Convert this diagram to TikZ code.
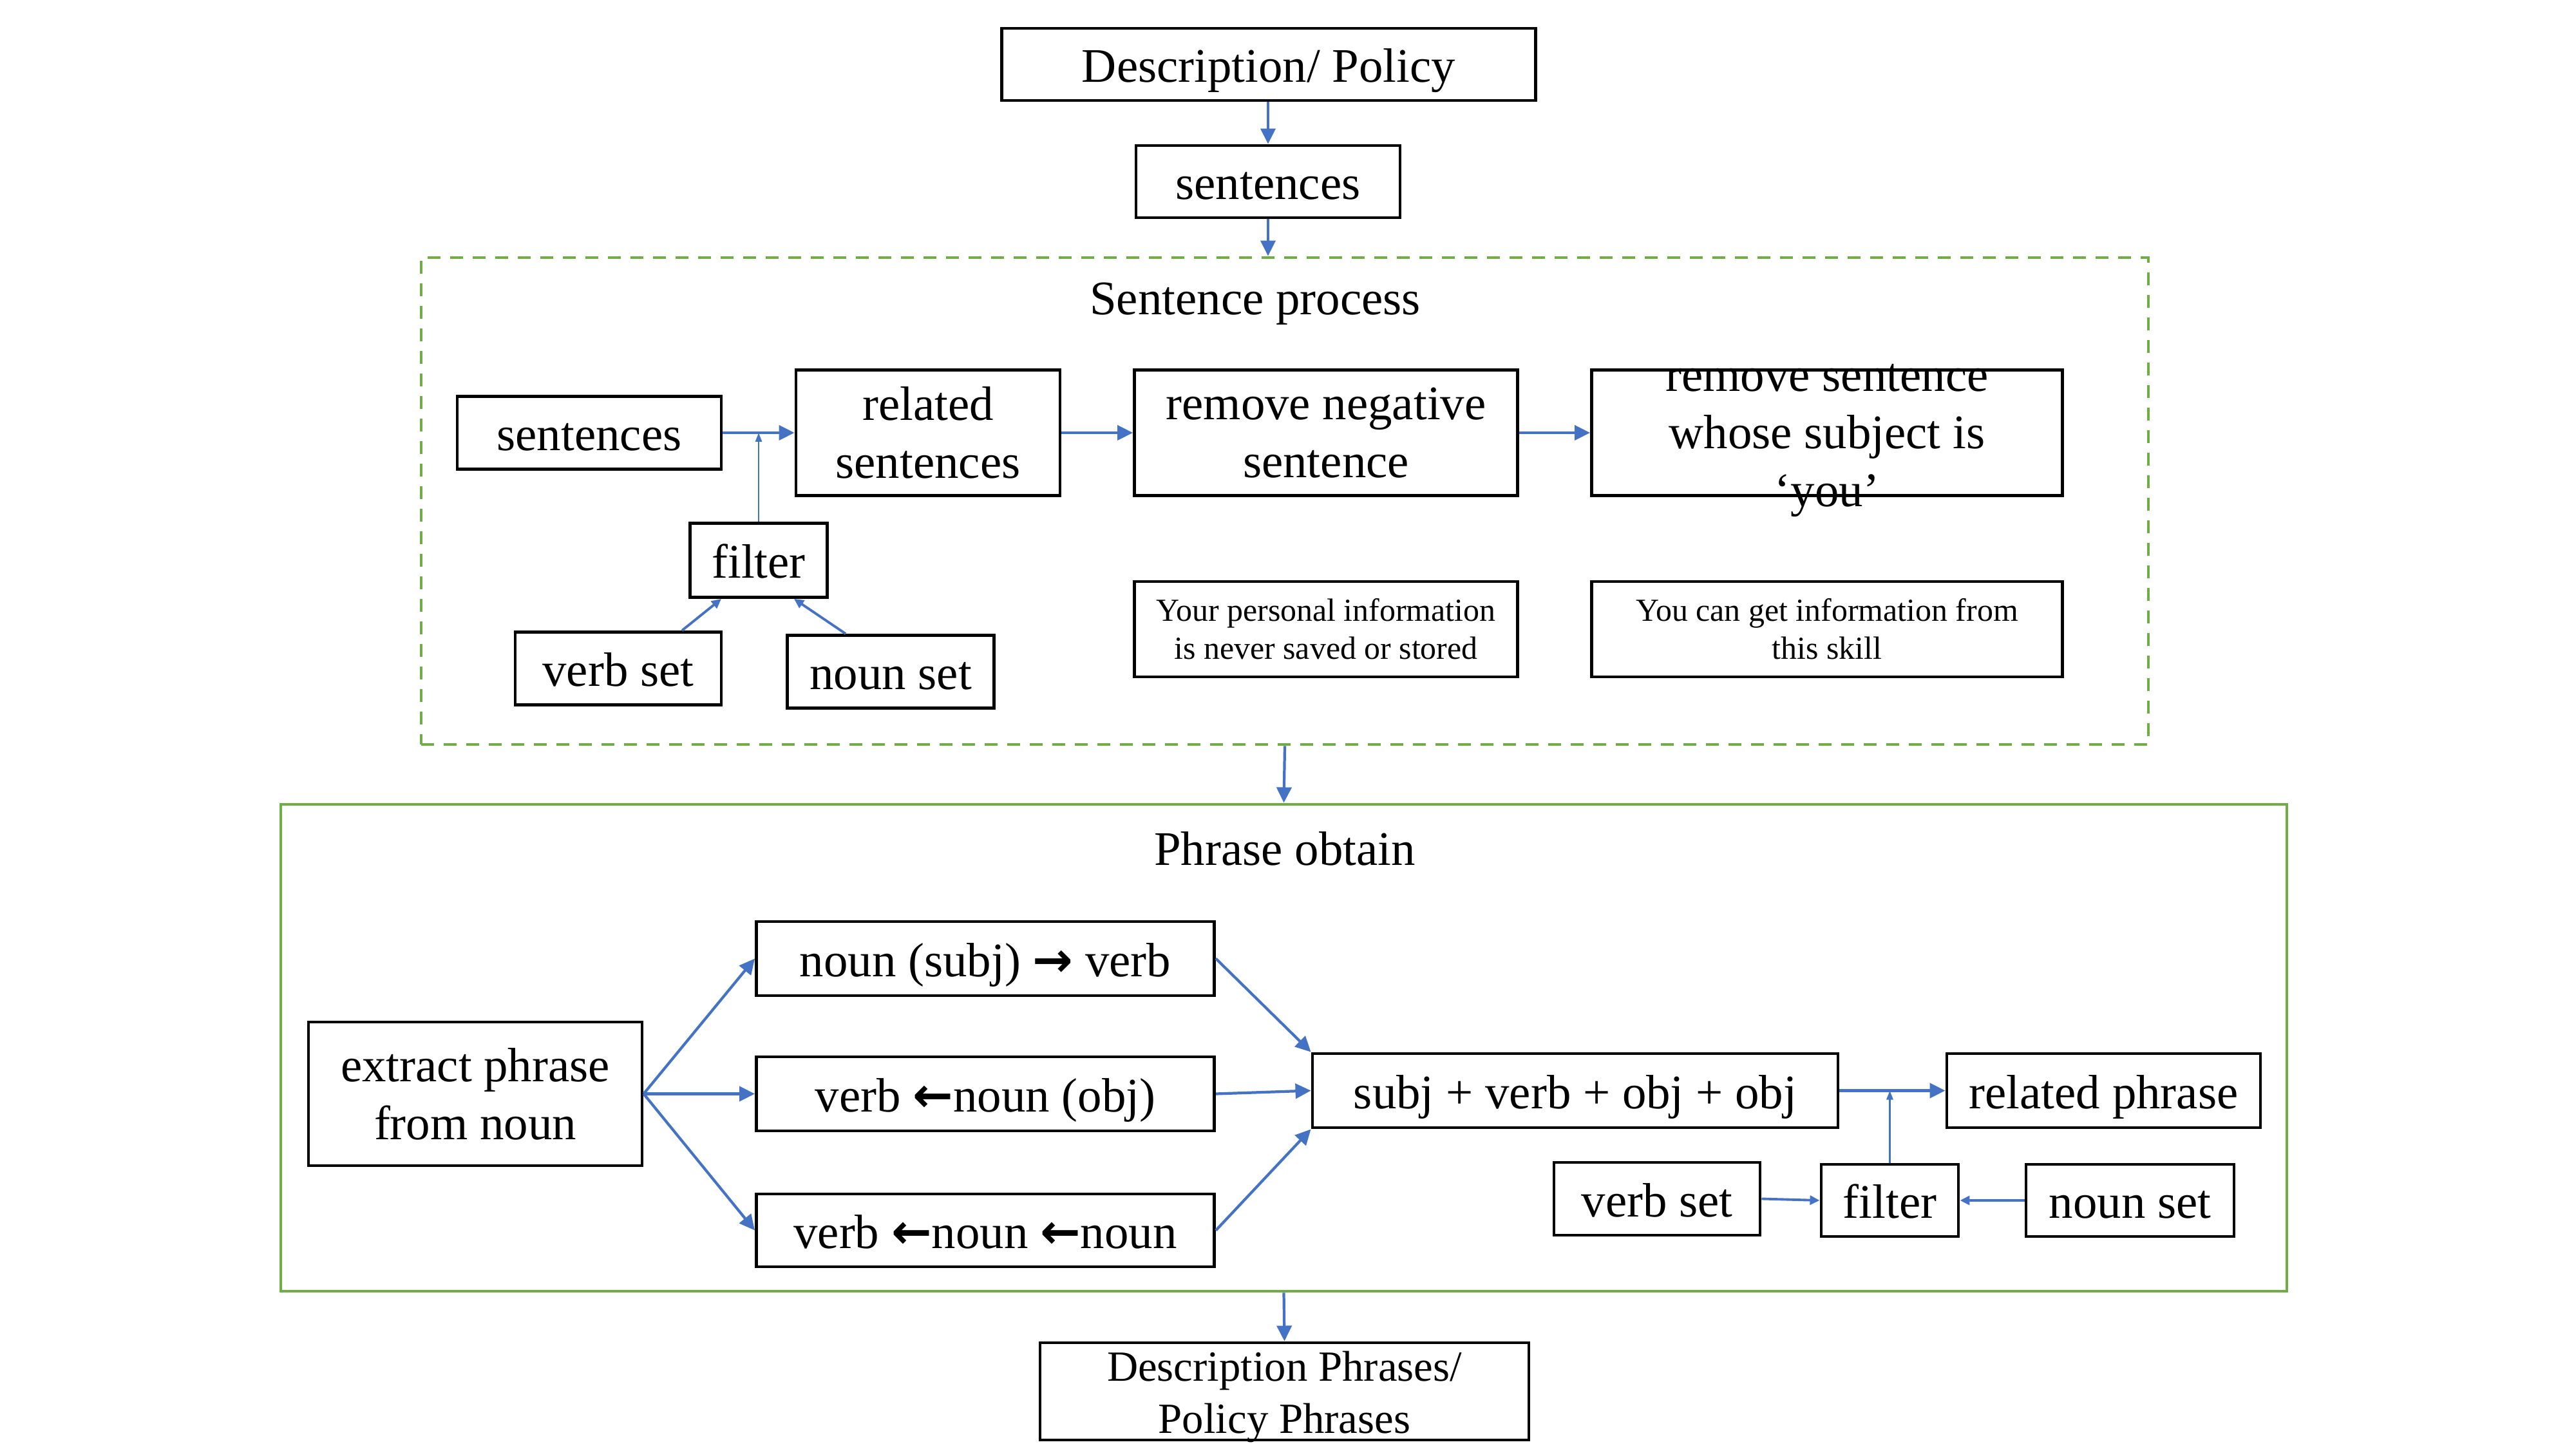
\documentclass[tikz,border=0pt]{standalone}
\usepackage{fontspec}
\setmainfont{Liberation Serif}
\newfontfamily\arrowfont{DejaVu Sans}
\usetikzlibrary{arrows.meta}
\definecolor{arrowblue}{HTML}{4472C4}
\definecolor{boxgreen}{HTML}{70AD47}
\newcommand{\bigtext}{\fontsize{21.3pt}{25.6pt}\selectfont}
\newcommand{\smalltext}{\fontsize{14.2pt}{16.8pt}\selectfont}
\newcommand{\midtext}{\fontsize{19pt}{22.8pt}\selectfont}
\newcommand{\rarr}{{\arrowfont\bfseries →}}
\newcommand{\larr}{{\arrowfont\bfseries ←}}
\begin{document}
\begin{tikzpicture}[
  box/.style={draw=black, line width=1.4pt, inner sep=0pt, font=\bigtext},
  multi/.style={align=center},
  one/.style={text height=20pt, text depth=4.3pt},
  plain/.style={inner sep=0pt, align=center, font=\bigtext},
  conn/.style={draw=arrowblue, line width=1.2pt, -{Triangle[length=0.24cm,width=0.23cm]}},
  thinconn/.style={draw=arrowblue, line width=0.8pt, -{Triangle[length=0.14cm,width=0.1cm]}},
  midconn/.style={draw=arrowblue, line width=1.1pt, -{Triangle[length=0.15cm,width=0.14cm]}},
  frame/.style={draw=boxgreen, line width=1.4pt, inner sep=0pt}
]
\useasboundingbox (0,0) rectangle (40,-22.5);

% top
\node[box, one, minimum width=8.29cm, minimum height=1.12cm] (desc) at (19.70,-1.00) {Description/ Policy};
\node[box, one, minimum width=4.10cm, minimum height=1.12cm] (sent1) at (19.69,-2.82) {sentences};

% sentence process frame
\node[frame, dashed, dash pattern=on 0.2cm off 0.15cm, minimum width=26.82cm, minimum height=7.56cm] (spbox) at (19.95,-7.78) {};
\node[plain] (title1) at (19.49,-4.72) {Sentence process};

\node[box, one, minimum width=4.10cm, minimum height=1.13cm] (sent2) at (9.15,-6.72) {sentences};
\node[box, multi, minimum width=4.10cm, minimum height=1.95cm] (rel) at (14.41,-6.72) {related\\sentences};
\node[box, multi, minimum width=5.95cm, minimum height=1.95cm] (neg) at (20.59,-6.72) {remove negative\\sentence};
\node[box, minimum width=7.31cm, minimum height=1.95cm] (you) at (28.37,-6.72) {};
\node[plain] (youtext) at (28.37,-6.84) {remove sentence\\whose subject is\\‘you’};
\node[box, one, minimum width=2.13cm, minimum height=1.15cm] (filt1) at (11.78,-8.70) {filter};
\node[box, one, minimum width=3.20cm, minimum height=1.13cm] (vset1) at (9.60,-10.38) {verb set};
\node[box, one, minimum width=3.21cm, minimum height=1.13cm] (nset1) at (13.83,-10.43) {noun set};
\node[box, multi, font=\smalltext, minimum width=5.95cm, minimum height=1.48cm] (pers) at (20.59,-9.77) {Your personal information\\is never saved or stored};
\node[box, multi, font=\smalltext, minimum width=7.31cm, minimum height=1.48cm] (skill) at (28.37,-9.77) {You can get information from\\this skill};

% phrase obtain frame
\node[frame, minimum width=31.15cm, minimum height=7.56cm] (phbox) at (19.935,-16.27) {};
\node[plain] (title2) at (19.95,-13.18) {Phrase obtain};

\node[box, multi, minimum width=5.18cm, minimum height=2.23cm] (extract) at (7.38,-16.985) {extract phrase\\from noun};
\node[box, one, minimum width=7.11cm, minimum height=1.15cm] (ns) at (15.30,-14.885) {noun (subj) \rarr{} verb};
\node[box, one, minimum width=7.11cm, minimum height=1.15cm] (vn) at (15.30,-16.985) {verb \larr{}noun (obj)};
\node[box, one, minimum width=7.11cm, minimum height=1.13cm] (vnn) at (15.30,-19.105) {verb \larr{}noun \larr{}noun};
\node[box, one, minimum width=8.16cm, minimum height=1.15cm] (svo) at (24.46,-16.935) {subj + verb + obj + obj};
\node[box, one, minimum width=4.87cm, minimum height=1.15cm] (relp) at (32.665,-16.935) {related phrase};
\node[box, one, minimum width=3.20cm, minimum height=1.13cm] (vset2) at (25.73,-18.615) {verb set};
\node[box, one, minimum width=2.13cm, minimum height=1.12cm] (filt2) at (29.345,-18.64) {filter};
\node[box, one, minimum width=3.23cm, minimum height=1.12cm] (nset2) at (33.075,-18.64) {noun set};

% bottom
\node[box, minimum width=7.59cm, minimum height=1.51cm] (dp) at (19.945,-21.605) {};
\node[plain, font=\midtext] (dptext) at (19.945,-21.69) {Description Phrases/\\Policy Phrases};

% connectors
\draw[conn] (desc.south -| sent1.north) -- (sent1.north);
\draw[conn] (sent1.south) -- (sent1.south |- spbox.north);
\draw[conn] (spbox.south) -- (phbox.north);
\draw[conn] (phbox.south) -- (dp.north);

\draw[conn] (sent2.east) -- (rel.west);
\draw[thinconn] (filt1.north) -- (filt1.north |- sent2.east);
\draw[midconn] ([xshift=0.99cm]vset1.north) -- ([xshift=-0.58cm]filt1.south);
\draw[midconn] ([xshift=-0.70cm]nset1.north) -- ([xshift=0.55cm]filt1.south);
\draw[conn] (rel.east) -- (neg.west);
\draw[conn] (neg.east) -- (you.west);

\draw[conn] (extract.east) -- (ns.west);
\draw[conn] (extract.east) -- (vn.west);
\draw[conn] (extract.east) -- (vnn.west);
\draw[conn] (ns.east) -- (svo.north west);
\draw[conn] (vn.east) -- (svo.west);
\draw[conn] (vnn.east) -- (svo.south west);
\draw[conn] (svo.east) -- (relp.west);
\draw[thinconn] (filt2.north) -- (filt2.north |- svo.east);
\draw[midconn] (vset2.east) -- (filt2.west);
\draw[midconn] (nset2.west) -- (filt2.east);
\end{tikzpicture}
\end{document}
